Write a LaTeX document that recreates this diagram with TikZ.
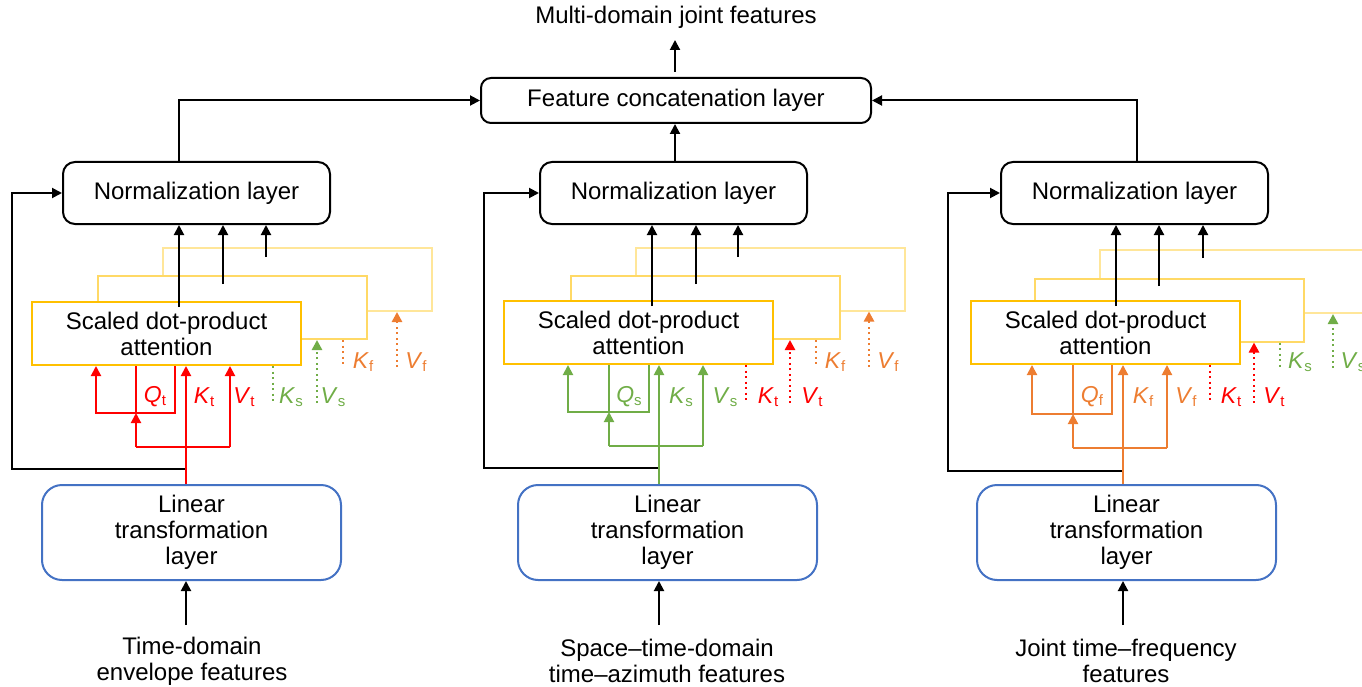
\documentclass[tikz,border=0pt]{standalone}
\usepackage{fontspec}
\setmainfont{Liberation Sans}
\usetikzlibrary{arrows.meta}
\definecolor{tred}{HTML}{FF0000}
\definecolor{sgreen}{HTML}{70AD47}
\definecolor{forange}{HTML}{ED7D31}
\definecolor{linblue}{HTML}{4472C4}
\definecolor{goldA}{HTML}{FFC000}
\definecolor{goldB}{HTML}{FFD966}
\definecolor{goldC}{HTML}{FFE699}
\newcommand{\qkv}[2]{\textit{#1}\raisebox{-0.25ex}{\fontsize{15}{15}\selectfont #2}}

\begin{document}
\begin{tikzpicture}[x=1pt,y=-1pt,line width=2pt,line join=miter,>={Triangle[length=10pt,width=10pt]},
	every node/.style={font=\fontsize{24}{26}\selectfont},
	normbox/.style={draw,rounded corners=12pt,minimum width=267pt,minimum height=62pt},
	featbox/.style={draw,rounded corners=10pt,minimum width=390pt,minimum height=45pt},
	attbox/.style={draw,fill=white,align=center,minimum width=269pt,minimum height=63pt},
	linbox/.style={draw=linblue,rounded corners=20pt,align=center,minimum width=299pt,minimum height=95pt},
	infeat/.style={align=center},
	lbl/.style={font=\fontsize{23}{24}\selectfont,inner sep=0pt},
	dotline/.style={line width=2.5pt,dash pattern=on 2pt off 3.5pt}]
		\useasboundingbox (0,0) rectangle (1362,687);
		\clip (0,0) rectangle (1362,687);
		% top
		\node[featbox] (feat) at (676,100.5) {Feature concatenation layer};
		\node (out) at (676,17) {Multi-domain joint features};
		\coordinate (outa) at (675,72);
		\draw[->] (outa) -- ++(0,-32);
		% time domain
		\node[normbox] (norm1) at (196.5,193) {Normalization layer};
		\node[attbox,draw=goldC] (att1c) at (297.5,279.5) {};
		\node[attbox,draw=goldB] (att1b) at (232.5,307.5) {};
		\node[attbox,draw=goldA] (att1a) at (166.5,333.5) {Scaled dot-product\\attention};
		\node[linbox] (lin1) at (191.5,532.5) {Linear\\transformation\\layer};
		\node[infeat] (in1) at (192,661) {Time-domain\\envelope features};
		\coordinate (o1a) at (179,307);
		\coordinate (o1b) at (223,284);
		\coordinate (o1c) at (266,257);
		\draw[->] (o1a) -- (o1a |- norm1.south);
		\draw[->] (o1b) -- (o1b |- norm1.south);
		\draw[->] (o1c) -- (o1c |- norm1.south);
		\draw[->] ([xshift=-17.5pt]norm1.north) |- (feat.west);
		\coordinate (s1) at (186,469);
		\coordinate (fb1) at (12,469);
		\draw[->] (s1) -- (fb1) |- (norm1.west);
		\coordinate (a1) at (186,625);
		\draw[->] (a1) -- (a1 |- lin1.south);
		\coordinate (k1) at (186,447);
		\coordinate (b1l) at (136,447);
		\coordinate (b1r) at (230,447);
		\coordinate (q1) at (136,413);
		\coordinate (q1l) at (96,413);
		\coordinate (q1r) at (175,413);
		\draw[tred,->] (lin1.north -| k1) -- (k1 |- att1a.south);
		\draw[tred] (b1l) -- (b1r);
		\draw[tred,->] (b1r) -- (b1r |- att1a.south);
		\draw[tred,->] (b1l) -- (q1);
		\draw[tred] (q1) -- (q1 |- att1a.south);
		\draw[tred,->] (q1r |- att1a.south) -- (q1r) -- (q1l) -- (q1l |- att1a.south);
		\node[lbl,text=tred] (lq1) at (155,397) {\qkv{Q}{t}};
		\node[lbl,text=tred] (lk1) at (204,397) {\qkv{K}{t}};
		\node[lbl,text=tred] (lv1) at (244,397) {\qkv{V}{t}};
		\coordinate (dk1s) at (273,403);
		\coordinate (dv1s) at (317,403);
		\coordinate (dk1f) at (343,367);
		\coordinate (dv1f) at (397,367);
		\draw[dotline,sgreen] (dk1s |- att1a.south) -- (dk1s);
		\draw[dotline,sgreen,->] (dv1s) -- (dv1s |- att1b.south);
		\draw[dotline,forange] (dk1f |- att1b.south) -- (dk1f);
		\draw[dotline,forange,->] (dv1f) -- (dv1f |- att1c.south);
		\node[lbl,text=sgreen] (lks1) at (291,397) {\qkv{K}{s}};
		\node[lbl,text=sgreen] (lvs1) at (333,397) {\qkv{V}{s}};
		\node[lbl,text=forange] (lkf1) at (363,362) {\qkv{K}{f}};
		\node[lbl,text=forange] (lvf1) at (416,362) {\qkv{V}{f}};
		% space-time domain
		\node[normbox] (norm2) at (673.5,193) {Normalization layer};
		\node[attbox,draw=goldC] (att2c) at (770,279) {};
		\node[attbox,draw=goldB] (att2b) at (705,307.5) {};
		\node[attbox,draw=goldA] (att2a) at (638.5,332.5) {Scaled dot-product\\attention};
		\node[linbox] (lin2) at (667.5,532.5) {Linear\\transformation\\layer};
		\node[infeat] (in2) at (667,661) {Space--time-domain\\time--azimuth features};
		\coordinate (o2a) at (652,306);
		\coordinate (o2b) at (696,284);
		\coordinate (o2c) at (738,257);
		\draw[->] (o2a) -- (o2a |- norm2.south);
		\draw[->] (o2b) -- (o2b |- norm2.south);
		\draw[->] (o2c) -- (o2c |- norm2.south);
		\draw[->] (norm2.north -| outa) -- (feat.south -| outa);
		\coordinate (s2) at (659,468);
		\coordinate (fb2) at (484,468);
		\draw[->] (s2) -- (fb2) |- (norm2.west);
		\coordinate (a2) at (659,625);
		\draw[->] (a2) -- (a2 |- lin2.south);
		\coordinate (k2) at (659,446);
		\coordinate (b2l) at (609,446);
		\coordinate (b2r) at (703,446);
		\coordinate (q2) at (609,412);
		\coordinate (q2l) at (568,412);
		\coordinate (q2r) at (649,412);
		\draw[sgreen,->] (lin2.north -| k2) -- (k2 |- att2a.south);
		\draw[sgreen] (b2l) -- (b2r);
		\draw[sgreen,->] (b2r) -- (b2r |- att2a.south);
		\draw[sgreen,->] (b2l) -- (q2);
		\draw[sgreen] (q2) -- (q2 |- att2a.south);
		\draw[sgreen,->] (q2r |- att2a.south) -- (q2r) -- (q2l) -- (q2l |- att2a.south);
		\node[lbl,text=sgreen] (lq2) at (629,397) {\qkv{Q}{s}};
		\node[lbl,text=sgreen] (lk2) at (681,397) {\qkv{K}{s}};
		\node[lbl,text=sgreen] (lv2) at (725,397) {\qkv{V}{s}};
		\coordinate (dk2t) at (746,403);
		\coordinate (dv2t) at (790,403);
		\coordinate (dk2f) at (816,367);
		\coordinate (dv2f) at (869,367);
		\draw[dotline,tred] (dk2t |- att2a.south) -- (dk2t);
		\draw[dotline,tred,->] (dv2t) -- (dv2t |- att2b.south);
		\draw[dotline,forange] (dk2f |- att2b.south) -- (dk2f);
		\draw[dotline,forange,->] (dv2f) -- (dv2f |- att2c.south);
		\node[lbl,text=tred] (lkt2) at (768,397) {\qkv{K}{t}};
		\node[lbl,text=tred] (lvt2) at (812,397) {\qkv{V}{t}};
		\node[lbl,text=forange] (lkf2) at (835,362) {\qkv{K}{f}};
		\node[lbl,text=forange] (lvf2) at (888,362) {\qkv{V}{f}};
		% time-frequency domain
		\node[normbox] (norm3) at (1134.5,193) {Normalization layer};
		\node[attbox,draw=goldC] (att3c) at (1234.5,281.5) {};
		\node[attbox,draw=goldB] (att3b) at (1169,310) {};
		\node[attbox,draw=goldA] (att3a) at (1105.5,332.5) {Scaled dot-product\\attention};
		\node[linbox] (lin3) at (1126.5,532.5) {Linear\\transformation\\layer};
		\node[infeat] (in3) at (1126,661) {Joint time--frequency\\features};
		\coordinate (o3a) at (1116,306);
		\coordinate (o3b) at (1159,286);
		\coordinate (o3c) at (1203,258);
		\draw[->] (o3a) -- (o3a |- norm3.south);
		\draw[->] (o3b) -- (o3b |- norm3.south);
		\draw[->] (o3c) -- (o3c |- norm3.south);
		\draw[->] ([xshift=2.5pt]norm3.north) |- (feat.east);
		\coordinate (s3) at (1123,471);
		\coordinate (fb3) at (948,471);
		\draw[->] (s3) -- (fb3) |- (norm3.west);
		\coordinate (a3) at (1123,625);
		\draw[->] (a3) -- (a3 |- lin3.south);
		\coordinate (k3) at (1123,448);
		\coordinate (b3l) at (1073,448);
		\coordinate (b3r) at (1167,448);
		\coordinate (q3) at (1073,414);
		\coordinate (q3l) at (1032,414);
		\coordinate (q3r) at (1112,414);
		\draw[forange,->] (lin3.north -| k3) -- (k3 |- att3a.south);
		\draw[forange] (b3l) -- (b3r);
		\draw[forange,->] (b3r) -- (b3r |- att3a.south);
		\draw[forange,->] (b3l) -- (q3);
		\draw[forange] (q3) -- (q3 |- att3a.south);
		\draw[forange,->] (q3r |- att3a.south) -- (q3r) -- (q3l) -- (q3l |- att3a.south);
		\node[lbl,text=forange] (lq3) at (1092,397) {\qkv{Q}{f}};
		\node[lbl,text=forange] (lk3) at (1143,397) {\qkv{K}{f}};
		\node[lbl,text=forange] (lv3) at (1186,397) {\qkv{V}{f}};
		\coordinate (dk3t) at (1210,403);
		\coordinate (dv3t) at (1254,403);
		\coordinate (dk3s) at (1280,368);
		\coordinate (dv3s) at (1333,368);
		\draw[dotline,tred] (dk3t |- att3a.south) -- (dk3t);
		\draw[dotline,tred,->] (dv3t) -- (dv3t |- att3b.south);
		\draw[dotline,sgreen] (dk3s |- att3b.south) -- (dk3s);
		\draw[dotline,sgreen,->] (dv3s) -- (dv3s |- att3c.south);
		\node[lbl,text=tred] (lkt3) at (1231,397) {\qkv{K}{t}};
		\node[lbl,text=tred] (lvt3) at (1274,397) {\qkv{V}{t}};
		\node[lbl,text=sgreen] (lks3) at (1300,362) {\qkv{K}{s}};
		\node[lbl,text=sgreen] (lvs3) at (1353,362) {\qkv{V}{s}};
	\end{tikzpicture}
\end{document}
